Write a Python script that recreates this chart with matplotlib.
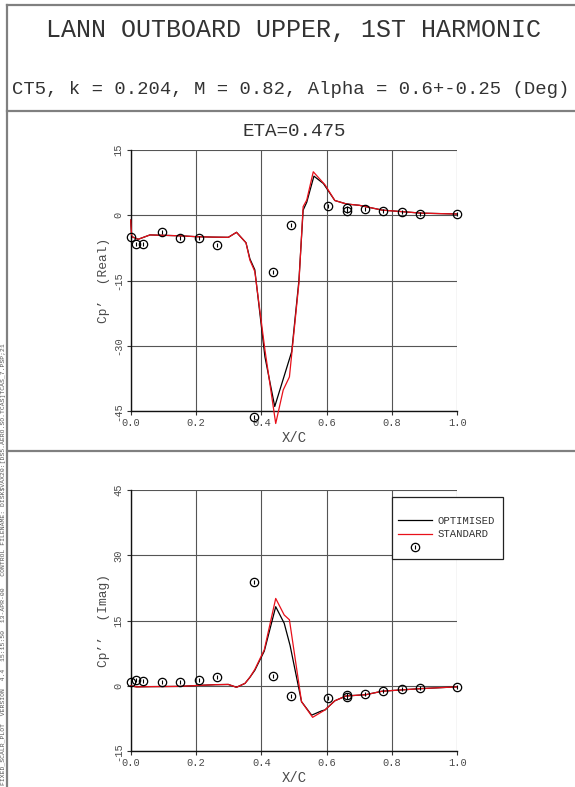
import matplotlib
matplotlib.use("Agg")
import matplotlib.pyplot as plt
from matplotlib.lines import Line2D
from matplotlib.legend_handler import HandlerTuple

plt.rcParams['font.family'] = ['Liberation Mono', 'DejaVu Sans Mono']

# ---------------- data ----------------
title = "LANN OUTBOARD UPPER, 1ST HARMONIC"
subtitle = "CT5, k = 0.204, M = 0.82, Alpha = 0.6+-0.25 (Deg)"
section = "ETA=0.475"
side_text = ("FIXED_SCALR_PLOT  VERSION  4.4  15:15:50  13-APR-00   CONTROL FILENAME: "
             "DISK$VAX20:[DS5.AERO.SO.TCAS]TCAS_7.PSP;21")
series_names = ["OPTIMISED", "STANDARD"]

x_ticks = [0.0, 0.2, 0.4, 0.6, 0.8, 1.0]
real_ticks = [-45, -30, -15, 0, 15]
imag_ticks = [-15, 0, 15, 30, 45]

exp_x = [0.0, 0.016, 0.039, 0.096, 0.152, 0.209, 0.265, 0.378, 0.435, 0.491,
         0.605, 0.661, 0.661, 0.718, 0.774, 0.831, 0.887, 1.0]
exp_real = [-4.9, -6.5, -6.5, -3.8, -5.3, -5.3, -6.7, -46.2, -13.1, -2.3,
            2.1, 1.7, 1.1, 1.5, 1.1, 0.8, 0.2, 0.3]
exp_imag = [0.9, 1.4, 1.1, 0.8, 0.9, 1.4, 2.0, 23.8, 2.2, -2.2,
            -2.8, -2.1, -2.6, -1.9, -1.1, -0.8, -0.4, -0.2]

# Real part, STANDARD
std_real_x = [0.0, 0.003, 0.023, 0.059, 0.15, 0.2, 0.25, 0.299, 0.324, 0.353, 0.365,
              0.38, 0.411, 0.444, 0.467, 0.486, 0.515, 0.528, 0.539, 0.559, 0.595,
              0.625, 0.661, 0.70, 0.77, 0.89, 1.0]
std_real_y = [-1.1, -4.9, -5.5, -4.5, -4.7, -4.9, -5.0, -5.05, -3.9, -6.3, -10.3,
              -12.9, -30.9, -47.8, -40.1, -37.1, -15.6, 2.0, 3.5, 10.0, 7.0,
              3.4, 2.6, 2.3, 1.2, 0.5, 0.3]
# Real part, OPTIMISED
opt_real_x = [0.0, 0.003, 0.023, 0.059, 0.15, 0.2, 0.25, 0.299, 0.324, 0.353, 0.365,
              0.38, 0.411, 0.441, 0.493, 0.515, 0.528, 0.539, 0.561, 0.59,
              0.625, 0.661, 0.70, 0.77, 0.89, 1.0]
opt_real_y = [-1.1, -4.9, -5.5, -4.5, -4.7, -4.9, -5.0, -5.05, -3.9, -6.3, -10.0,
              -12.5, -32.5, -43.9, -31.3, -15.0, 1.2, 3.0, 9.0, 7.3,
              3.4, 2.6, 2.3, 1.2, 0.5, 0.3]

# Imaginary part, STANDARD
std_imag_x = [0.0, 0.018, 0.06, 0.15, 0.2, 0.26, 0.299, 0.324, 0.35, 0.365, 0.38,
              0.409, 0.444, 0.47, 0.486, 0.523, 0.557, 0.595, 0.625, 0.659, 0.72,
              0.77, 0.89, 1.0]
std_imag_y = [0.0, -0.2, -0.15, -0.1, 0.1, 0.3, 0.35, -0.3, 0.6, 2.0, 3.8,
              8.3, 20.1, 16.3, 15.2, -3.6, -7.2, -5.5, -3.4, -2.3, -2.0,
              -1.2, -0.6, -0.2]
# Imaginary part, OPTIMISED
opt_imag_x = [0.0, 0.018, 0.06, 0.15, 0.2, 0.26, 0.299, 0.324, 0.35, 0.365, 0.38,
              0.409, 0.444, 0.47, 0.488, 0.523, 0.554, 0.585, 0.595, 0.625, 0.659,
              0.72, 0.77, 0.89, 1.0]
opt_imag_y = [0.0, -0.2, -0.15, -0.1, 0.1, 0.3, 0.35, -0.3, 0.6, 2.0, 3.6,
              8.0, 18.2, 14.4, 9.3, -3.6, -6.7, -5.7, -5.5, -3.4, -2.3,
              -2.0, -1.2, -0.6, -0.2]

# ---------------- figure ----------------
W, H = 575, 787
fig = plt.figure(figsize=(W / 100, H / 100), dpi=100)

def fx(px):
    return px / W

def fy(py):
    return 1 - py / H

frame_col = '#808080'
# page frame lines
fig.add_artist(Line2D([fx(7), fx(7)], [fy(5), fy(787)], color=frame_col, lw=1.6))
for yy in (5, 111, 451):
    fig.add_artist(Line2D([fx(7), fx(575)], [fy(yy), fy(yy)], color=frame_col, lw=1.6))

txt_col = '#333333'
fig.text(fx(294), fy(30), title, ha='center', va='center', fontsize=18, color=txt_col)
fig.text(fx(291), fy(90), subtitle, ha='center', va='center', fontsize=13.6, color=txt_col)
fig.text(fx(294), fy(131), section, ha='center', va='center', fontsize=13.9, color=txt_col)
fig.text(fx(3.5), fy(785), side_text, ha='center', va='bottom', rotation=90,
         fontsize=4.6, color='#555555')

ax_left, ax_w = fx(130.7), (457.3 - 130.7) / W
ax_h = (411.3 - 150) / H
ax1 = fig.add_axes([ax_left, fy(411.3), ax_w, ax_h])
ax2 = fig.add_axes([ax_left, fy(751.3), ax_w, ax_h])

tick_col = '#4a4a4a'
grid_col = '#555555'

def style(ax, yticks, ylabel):
    ax.set_xlim(0, 1)
    ax.set_ylim(yticks[0], yticks[-1])
    ax.set_xticks(x_ticks)
    ax.set_xticklabels([f"{v:.1f}" for v in x_ticks])
    ax.set_yticks(yticks)
    ax.set_yticklabels([str(v) for v in yticks], rotation=90, va='center')
    ax.tick_params(axis='both', labelsize=7.5, labelcolor=tick_col, length=3,
                   width=0.8, color='#333333', pad=2)
    ax.grid(True, color=grid_col, lw=0.8)
    ax.set_axisbelow(True)
    for s in ('top', 'right'):
        ax.spines[s].set_visible(False)
    for s in ('left', 'bottom'):
        ax.spines[s].set_color('#111111')
        ax.spines[s].set_linewidth(1.0)
    ax.set_xlabel("X/C", fontsize=10, color=tick_col, labelpad=2)
    ax.set_ylabel(ylabel, fontsize=9.3, color=tick_col, labelpad=3)

style(ax1, real_ticks, "Cp\u2019  (Real)")
style(ax2, imag_ticks, "Cp\u2019\u2019  (Imag)")

def draw(ax, ox, oy, sx, sy, ey):
    lo, = ax.plot(ox, oy, color='black', lw=0.9, clip_on=False, zorder=3)
    ls, = ax.plot(sx, sy, color='#e8101a', lw=0.9, clip_on=False, zorder=4)
    m1, = ax.plot(exp_x, ey, ls='none', marker='o', ms=6, mfc='none', mec='black',
                  mew=0.9, clip_on=False, zorder=5)
    m2, = ax.plot(exp_x, ey, ls='none', marker='|', ms=3, color='black',
                  mew=0.8, clip_on=False, zorder=5)
    return lo, ls, m1, m2

draw(ax1, opt_real_x, opt_real_y, std_real_x, std_real_y, exp_real)
lo, ls, m1, m2 = draw(ax2, opt_imag_x, opt_imag_y, std_imag_x, std_imag_y, exp_imag)

leg = ax2.legend([lo, ls, (m1, m2)], [series_names[0], series_names[1], ""],
                 handler_map={tuple: HandlerTuple(ndivide=1, pad=0)},
                 loc='upper left', bbox_to_anchor=(0.80, 0.75, 0.34, 0.225),
                 mode='expand', borderaxespad=0, fontsize=7.7, frameon=True,
                 fancybox=False, edgecolor='#222222', framealpha=1, numpoints=1,
                 handlelength=3.2, handletextpad=0.55, labelspacing=0.32,
                 borderpad=0.55, title=' ', title_fontsize=7.5)
leg.get_frame().set_linewidth(0.9)
leg.set_zorder(10)
for t in leg.get_texts():
    t.set_color(txt_col)

fig.savefig("out.png", dpi=100)
